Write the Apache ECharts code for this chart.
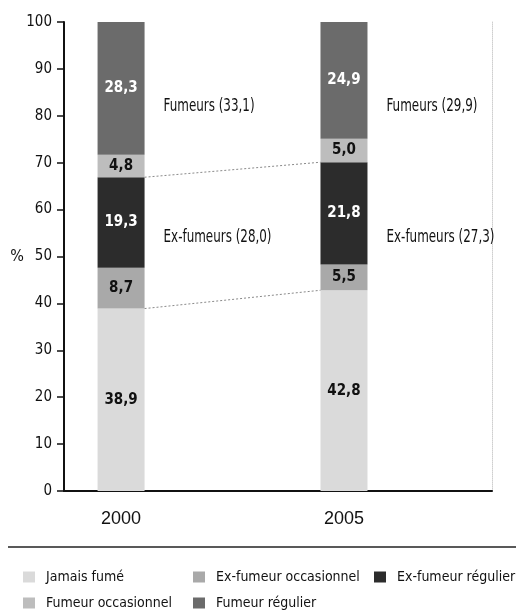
<!DOCTYPE html>
<html>
<head>
<meta charset="utf-8">
<script src="https://cdn.jsdelivr.net/npm/echarts@6/dist/echarts.min.js"></script>
<style>
  html, body { margin: 0; padding: 0; background: #fff; }
  #chart { width: 516px; height: 610px; }
</style>
</head>
<body>
<div id="chart"></div>
<script>
// data (percent)
const years = [2000, 2005];
const jamaisFume = [38.9, 42.8];
const exFumeurOcc = [8.7, 5.5];
const exFumeurReg = [19.3, 21.8];
const fumeurOcc = [4.8, 5.0];
const fumeurReg = [28.3, 24.9];
const yTicks = [0, 10, 20, 30, 40, 50, 60, 70, 80, 90, 100];

const FONT = '"DejaVu Sans Condensed", "Liberation Sans Narrow", sans-serif';
const fmt = v => v.toFixed(1).replace('.', ',');
const barW = 47;

// bounds of the ex-fumeurs group in each bar
const exLow = jamaisFume.slice();
const exHigh = years.map((y, i) => jamaisFume[i] + exFumeurOcc[i] + exFumeurReg[i]);

function barSeries(name, values, color, labelColor) {
  return {
    name: name,
    type: 'bar',
    stack: 'tot',
    barWidth: barW,
    // value first so the stack is done on the y dimension
    dimensions: ['v', 'year'],
    encode: { x: 'year', y: 'v' },
    data: years.map((y, i) => [values[i], y]),
    itemStyle: { color: color },
    label: {
      show: true,
      position: 'inside',
      color: labelColor,
      fontFamily: FONT,
      fontSize: 15,
      fontWeight: 'bold',
      formatter: p => fmt(p.value[0])
    }
  };
}

const chart = echarts.init(document.getElementById('chart'));

const legendPos = [
  ['Jamais fumé', 18, 565],
  ['Ex-fumeur occasionnel', 188, 565],
  ['Ex-fumeur régulier', 369, 565],
  ['Fumeur occasionnel', 18, 591],
  ['Fumeur régulier', 188, 591]
];

const option = {
  backgroundColor: '#fff',
  animation: false,
  grid: { left: 64, right: 24, top: 22, bottom: 119 },
  xAxis: {
    type: 'value',
    min: 1998.72,
    max: 2008.32,
    axisLine: { show: true, onZero: false, lineStyle: { color: '#111', width: 2 } },
    axisTick: { show: false },
    splitLine: { show: false },
    axisLabel: {
      customValues: years,
      formatter: v => String(v),
      color: '#111',
      fontFamily: '"Liberation Sans", sans-serif',
      fontSize: 18,
      margin: 19
    }
  },
  yAxis: [{
    type: 'value',
    min: 0,
    max: 100,
    interval: 10,
    name: '%',
    nameLocation: 'middle',
    nameRotate: 0,
    nameGap: 40,
    nameMoveOverlap: false,
    nameTextStyle: { color: '#111', fontFamily: FONT, fontSize: 16 },
    axisLine: { show: true, lineStyle: { color: '#111', width: 2 } },
    axisTick: { show: true, length: 7, lineStyle: { color: '#111', width: 1.5 } },
    splitLine: { show: false },
    axisLabel: {
      customValues: yTicks,
      color: '#111',
      fontFamily: FONT,
      fontSize: 15,
      margin: 12
    }
  }, {
    type: 'value',
    position: 'right',
    min: 0,
    max: 100,
    axisLine: { show: true, lineStyle: { color: '#cfcfcf', width: 1, type: 'dotted' } },
    axisTick: { show: false },
    axisLabel: { show: false },
    splitLine: { show: false }
  }],
  legend: legendPos.map(l => ({
    data: [l[0]],
    left: l[1],
    top: l[2],
    icon: 'rect',
    itemWidth: 12,
    itemHeight: 11,
    selectedMode: false,
    textStyle: { color: '#111', fontFamily: FONT, fontSize: 14, padding: [0, 0, 0, 6] }
  })),
  graphic: [{
    type: 'line',
    shape: { x1: 8, y1: 547, x2: 516, y2: 547 },
    style: { stroke: '#222', lineWidth: 1.5 },
    silent: true
  }],
  series: [
    barSeries('Jamais fumé', jamaisFume, '#dadada', '#111'),
    barSeries('Ex-fumeur occasionnel', exFumeurOcc, '#a9a9a9', '#111'),
    barSeries('Ex-fumeur régulier', exFumeurReg, '#2c2c2c', '#fff'),
    barSeries('Fumeur occasionnel', fumeurOcc, '#bdbdbd', '#111'),
    barSeries('Fumeur régulier', fumeurReg, '#6b6b6b', '#fff'),
    {
      type: 'custom',
      silent: true,
      z: 3,
      data: years.map((y, i) => [y, exLow[i], exHigh[i]]),
      encode: { x: 0, y: [1, 2] },
      renderItem: function (params, api) {
        const i = params.dataIndex;
        const x = years[i];
        const half = barW / 2;
        const children = [];
        if (i < years.length - 1) {
          [exHigh, exLow].forEach(arr => {
            const a = api.coord([x, arr[i]]);
            const b = api.coord([years[i + 1], arr[i + 1]]);
            children.push({
              type: 'line',
              shape: { x1: a[0] + half, y1: a[1], x2: b[0] - half, y2: b[1] },
              style: { stroke: '#8a8a8a', lineWidth: 1, lineDash: [2, 2] }
            });
          });
        }
        // group labels sit level across the years
        const n = years.length;
        const fumMid = exHigh.reduce((s, v) => s + (v + 100) / 2, 0) / n;
        const exMid = exHigh.reduce((s, v, k) => s + (v + exLow[k]) / 2, 0) / n;
        const fumTot = fumeurOcc[i] + fumeurReg[i];
        const exTot = exFumeurOcc[i] + exFumeurReg[i];
        const pF = api.coord([x, fumMid]);
        const pE = api.coord([x, exMid]);
        const txt = (t, p, dy) => ({
          type: 'text',
          x: p[0] + half + 19, y: p[1] + dy,
          scaleX: 0.78,
          style: { text: t, fill: '#111', font: '17px ' + FONT, verticalAlign: 'middle' }
        });
        children.push(txt('Fumeurs (' + fmt(fumTot) + ')', pF, 11));
        children.push(txt('Ex-fumeurs (' + fmt(exTot) + ')', pE, 3));
        return { type: 'group', children: children };
      }
    }
  ]
};

chart.setOption(option);
</script>
</body>
</html>
